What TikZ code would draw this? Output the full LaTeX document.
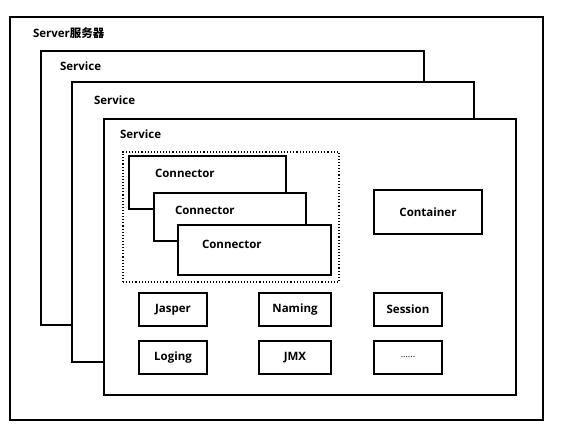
\documentclass[tikz,border=0pt]{standalone}
\usepackage{fontspec}
\setmainfont{Open Sans}
\newfontfamily\cjk{Noto Sans CJK SC}
\usetikzlibrary{positioning}

\begin{document}
\begin{tikzpicture}[
    x=1pt, y=-1pt,
    line width=1.1pt,
    every node/.style={font=\fontsize{11.5}{13}\selectfont\bfseries},
    frame/.style={draw, fill=white, rectangle, inner sep=0pt},
    tag/.style={inner sep=0pt, anchor=west},
    box/.style={draw, fill=white, rectangle, inner sep=0pt, minimum width=68pt, minimum height=33pt}
]
\useasboundingbox (0,0) rectangle (566,427);

% Server and its services
\node[frame, minimum width=533pt, minimum height=403pt] (server) at (276.5,218.5) {};
\node[tag] (serverlbl) at ([xshift=23pt, yshift=-17pt]server.north west) {Server{\cjk\bfseries 服务器}};
\node[frame, minimum width=383pt, minimum height=274pt] (svc1) at (232.5,188) {};
\node[tag] (svc1lbl) at ([xshift=19pt, yshift=-16pt]svc1.north west) {Service};
\node[frame, minimum width=402pt, minimum height=280pt] (svc2) at (273,222) {};
\node[tag] (svc2lbl) at ([xshift=22pt, yshift=-19pt]svc2.north west) {Service};
\node[frame, minimum width=412pt, minimum height=276pt] (svc3) at (310,257) {};
\node[tag] (svc3lbl) at ([xshift=16pt, yshift=-16pt]svc3.north west) {Service};

% Connectors
\node[draw, dotted, rectangle, minimum width=216pt, minimum height=130pt] (conns) at (231,217) {};
\node[frame, minimum width=157pt, minimum height=53pt] (conn1) at (207.5,182.5) {};
\node[tag] (conn1lbl) at ([xshift=26pt, yshift=9pt]conn1.west) {Connector};
\node[frame, minimum width=152pt, minimum height=48pt] (conn2) at (230,217) {};
\node[tag] (conn2lbl) at ([xshift=21pt, yshift=7pt]conn2.west) {Connector};
\node[frame, minimum width=153pt, minimum height=50pt] (conn3) at (254.5,250) {};
\node[tag] (conn3lbl) at ([xshift=24pt, yshift=6pt]conn3.west) {Connector};

\node[box, minimum width=108pt, minimum height=44pt] (container) at (428,212) {Container};

% Components
\node[box] (jasper) at (173,309.5) {Jasper};
\node[box, minimum width=72pt] (naming) at (295,309.5) {Naming};
\node[box] (session) at (408,309.5) {Session};
\node[box] (loging) at (173,357.5) {Loging};
\node[box, minimum width=72pt] (jmx) at (295,357.5) {JMX};
\node[box, font=\fontsize{9}{10}\selectfont] (more) at (408,357.5) {......};
\end{tikzpicture}
\end{document}
